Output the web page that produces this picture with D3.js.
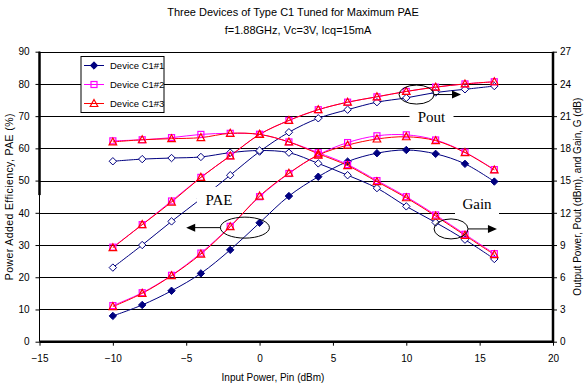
<!DOCTYPE html>
<html><head><meta charset="utf-8">
<script src="https://cdn.jsdelivr.net/npm/d3@7"></script>
<style>body{margin:0;background:#fff}svg{display:block}text{font-family:"Liberation Sans",Arial,sans-serif}</style>
</head><body><svg id="c" width="586" height="384"></svg>
<script>
const pin = [-10,-8,-6,-4,-2,0,2,4,6,8,10,12,14,16];
const paeC1 = [8.0,11.4,15.8,21.2,28.5,36.9,45.2,51.2,55.9,58.5,59.5,58.3,55.2,49.7];
const poutC1 = [6.9,9.0,11.2,13.3,15.5,17.7,19.5,20.8,21.6,22.3,22.7,23.2,23.5,23.8];
const gainC1 = [16.8,17.0,17.1,17.2,17.6,17.8,17.6,16.6,15.5,14.3,12.6,11.1,9.5,7.7];
const paeC2 = [11.2,15.2,20.6,27.5,35.8,45.0,52.2,58.0,61.8,63.9,64.2,62.6,58.8,53.4];
const poutC2 = [8.8,10.9,13.1,15.3,17.3,19.3,20.6,21.6,22.3,22.8,23.3,23.7,24.0,24.2];
const gainC2 = [18.7,18.8,19.0,19.3,19.4,19.3,18.6,17.6,16.5,15.0,13.5,11.8,10.0,8.2];
const paeC3 = [10.9,15.0,20.5,27.2,35.7,45.2,52.3,57.9,61.0,62.9,63.6,62.4,58.7,53.3];
const poutC3 = [8.75,10.9,13.0,15.3,17.3,19.3,20.6,21.6,22.3,22.8,23.3,23.7,24.0,24.2];
const gainC3 = [18.6,18.8,18.9,19.0,19.4,19.3,18.6,17.5,16.4,14.9,13.4,11.7,9.9,8.1];
const xTicks = [-15,-10,-5,0,5,10,15,20];
const yLeftTicks = [0,10,20,30,40,50,60,70,80,90];
const yRightTicks = [0,3,6,9,12,15,18,21,24,27];
const devices = ["Device C1#1","Device C1#2","Device C1#3"];
const colors = ["#000080","#FF00FF","#FF0000"];
const title = "Three Devices of Type C1 Tuned for Maximum PAE";
const subtitle = "f=1.88GHz, Vc=3V, Icq=15mA";

const svg = d3.select("#c");
const L=39.5, R=553, T=51.7, B=341.7;
const x = d3.scaleLinear().domain([-15,20]).range([L,R]);
const yL = d3.scaleLinear().domain([0,90]).range([B,T]);
const yR = d3.scaleLinear().domain([0,27]).range([B,T]);

svg.append("text").attr("x",293).attr("y",16).attr("text-anchor","middle").attr("font-size",11).text(title);
svg.append("text").attr("x",298).attr("y",34).attr("text-anchor","middle").attr("font-size",11).text(subtitle);

// gridlines
svg.append("g").selectAll("line").data(yLeftTicks.filter(d=>d>0)).join("line")
  .attr("x1",L).attr("x2",R).attr("y1",d=>Math.round(yL(d))+0.5).attr("y2",d=>Math.round(yL(d))+0.5)
  .attr("stroke","#000").attr("stroke-width",1);

// axes
const gx = svg.append("g").attr("transform",`translate(0,${B})`)
  .call(d3.axisBottom(x).tickValues(xTicks).tickSize(4).tickPadding(9).tickFormat(d3.format("d")));
const gl = svg.append("g").attr("transform",`translate(${L},0)`)
  .call(d3.axisLeft(yL).tickValues(yLeftTicks).tickSize(4).tickPadding(6));
const gr = svg.append("g").attr("transform",`translate(${R},0)`)
  .call(d3.axisRight(yR).tickValues(yRightTicks).tickSize(4).tickPadding(3));
[gx,gl,gr].forEach(g=>{g.select(".domain").remove();g.selectAll("text").attr("font-size",10).attr("fill","#000");g.selectAll("line").attr("stroke","#000");});
svg.append("line").attr("x1",L).attr("x2",L).attr("y1",T).attr("y2",B).attr("stroke","#000");
svg.append("line").attr("x1",L).attr("x2",L).attr("y1",T).attr("y2",yL(45.5)).attr("stroke","#000").attr("stroke-width",2.5);
svg.append("line").attr("x1",L).attr("x2",R+1).attr("y1",B).attr("y2",B).attr("stroke","#000").attr("stroke-width",2.5);
svg.append("line").attr("x1",R).attr("x2",R).attr("y1",T).attr("y2",B+1).attr("stroke","#000").attr("stroke-width",2.5);

svg.append("text").attr("transform",`translate(9,${(T+B)/2}) rotate(-90)`).attr("text-anchor","middle").attr("dy","0.35em").attr("font-size",10.5).style("letter-spacing","0.4px").text("Power Added Efficiency, PAE (%)");
svg.append("text").attr("transform",`translate(577,${(T+B)/2}) rotate(-90)`).attr("text-anchor","middle").attr("dy","0.35em").attr("font-size",10).text("Output Power, Pout (dBm), and Gain, G (dB)");
svg.append("text").attr("x",273).attr("y",381).attr("text-anchor","middle").attr("font-size",10).text("Input Power, Pin (dBm)");

// markers
function marker(g, type, color, filled){
  if(type===0){ // diamond
    g.append("path").attr("d","M0,-3.7L3.7,0L0,3.7L-3.7,0Z").attr("fill",filled?color:"#fff").attr("stroke",color).attr("stroke-width",1);
  } else if(type===1){
    g.append("rect").attr("x",-3).attr("y",-3).attr("width",6).attr("height",6).attr("fill","none").attr("stroke",color).attr("stroke-width",1.2);
  } else {
    g.append("path").attr("d","M0,-4L3.8,3L-3.8,3Z").attr("fill","none").attr("stroke",color).attr("stroke-width",1.2);
  }
}
const series = [
  {vals:paeC1, y:yL, dev:0, filled:true},{vals:poutC1,y:yR,dev:0},{vals:gainC1,y:yR,dev:0},
  {vals:paeC2, y:yL, dev:1},{vals:poutC2,y:yR,dev:1},{vals:gainC2,y:yR,dev:1},
  {vals:paeC3, y:yL, dev:2},{vals:poutC3,y:yR,dev:2},{vals:gainC3,y:yR,dev:2}
];
const lineGen = (ys)=>d3.line().x((d,i)=>x(pin[i])).y(d=>ys(d)).curve(d3.curveCatmullRom.alpha(0.5));
series.forEach(s=>{
  svg.append("path").datum(s.vals).attr("d",lineGen(s.y)).attr("fill","none").attr("stroke",colors[s.dev]).attr("stroke-width",1);
});
series.forEach(s=>{
  s.vals.forEach((v,i)=>{
    const g = svg.append("g").attr("transform",`translate(${x(pin[i])},${s.y(v)})`);
    marker(g,s.dev,colors[s.dev],!!s.filled);
  });
});

// annotations (data units)
const labels = [{t:"Pout",x:11.72,y:69.7},{t:"Gain",x:14.82,y:42.9},{t:"PAE",x:-2.77,y:44.0}];
labels.forEach(l=>{
  svg.append("rect").attr("x",x(l.x)-22).attr("y",yL(l.y)-13).attr("width",44).attr("height",26).attr("fill","#fff");
  svg.append("text").attr("x",x(l.x)).attr("y",yL(l.y)).attr("dy","0.35em").attr("text-anchor","middle")
    .style("font-family","'Liberation Serif','Times New Roman',serif").attr("font-size",15).text(l.t);
});
const ells = [{cx:-1.0,cy:35.4,rx:24.5,ry:10.5,dir:-1,to:-5.0},{cx:10.7,cy:76.7,rx:17.5,ry:9.5,dir:1,to:13.73},{cx:13.05,cy:35.0,rx:17,ry:10,dir:1,to:16.18}];
ells.forEach(e=>{
  const cx=x(e.cx), cy=yL(e.cy);
  svg.append("ellipse").attr("cx",cx).attr("cy",cy).attr("rx",e.rx).attr("ry",e.ry).attr("fill","none").attr("stroke","#000");
  const x0 = cx+e.dir*e.rx, x1 = x(e.to);
  svg.append("line").attr("x1",x0).attr("x2",x1-e.dir*8).attr("y1",cy).attr("y2",cy).attr("stroke","#000");
  svg.append("path").attr("d",`M${x1},${cy}L${x1-e.dir*9},${cy-4}L${x1-e.dir*9},${cy+4}Z`).attr("fill","#000");
});

// legend
const lg = svg.append("g");
lg.append("rect").attr("x",81).attr("y",56.5).attr("width",83).attr("height",56).attr("fill","#fff").attr("stroke","#000");
devices.forEach((d,i)=>{
  const yy = 65.5+i*19;
  lg.append("line").attr("x1",84).attr("x2",104).attr("y1",yy).attr("y2",yy).attr("stroke",colors[i]);
  const g = lg.append("g").attr("transform",`translate(94,${yy})`);
  marker(g,i,colors[i],true);
  lg.append("text").attr("x",110).attr("y",yy).attr("dy","0.35em").attr("font-size",9.5).text(d);
});
</script></body></html>
